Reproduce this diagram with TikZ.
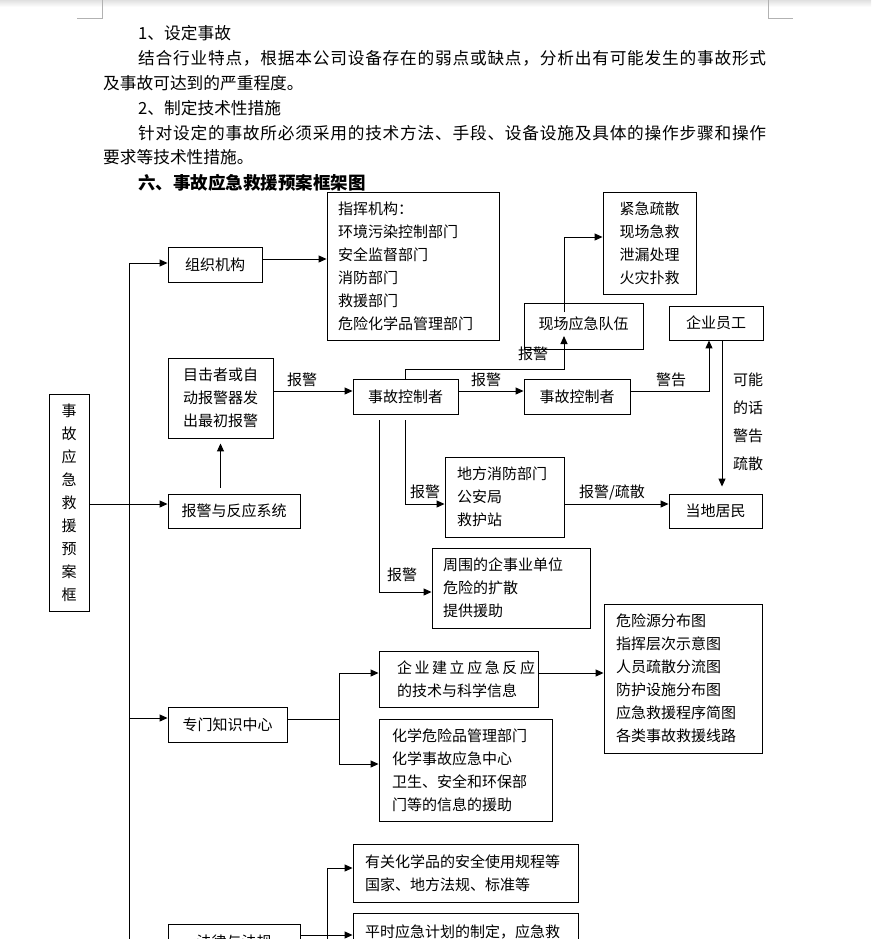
\documentclass[tikz,border=0pt]{standalone}
\usepackage{fontspec}
\setmainfont{Noto Sans CJK SC}
\usetikzlibrary{arrows.meta}
\newcommand\myspreadend{}
\def\myspreadA#1{\ifx#1\myspreadend\else#1\expandafter\myspreadB\fi}
\def\myspreadB#1{\ifx#1\myspreadend\else\hfill#1\expandafter\myspreadB\fi}
\newcommand\spreadto[2]{\makebox[#1][l]{\myspreadA#2\myspreadend}}
\newcommand\boxfont{\fontsize{15}{23}\selectfont}
\newcommand\bodyfont{\fontsize{16.7}{20}\selectfont}
\newcommand\titlefont{\fontsize{17.5}{20}\selectfont\bfseries}
\tikzset{
  box/.style={draw, line width=0.9pt, fill=white, inner sep=0pt, font=\boxfont},
  conn/.style={line width=1pt},
  arr/.style={conn, -{Triangle[length=8pt,width=7pt]}},
  lab/.style={font=\boxfont, inner sep=0pt},
  body/.style={font=\bodyfont, inner sep=0pt, anchor=west},
  ttl/.style={font=\titlefont, inner sep=0pt, anchor=west},
}
\begin{document}
\begin{tikzpicture}[x=1pt, y=-1pt]
\useasboundingbox (0,0) rectangle (871,939);
\fill[white] (0,0) rectangle (871,939);
\shade[top color=black!12, bottom color=white] (0,0) rectangle (871,7);
\draw[black!30, line width=0.8pt] (102,0) -- (102,18) -- (77,18);
\draw[black!30, line width=0.8pt] (768,0) -- (768,18) -- (793,18);

% body text
\node[body] (t1) at (138,33) {1、设定事故};
\node[body] (t2) at (138,58) {\spreadto{628pt}{结合行业特点，根据本公司设备存在的弱点或缺点，分析出有可能发生的事故形式}};
\node[body] (t3) at (103,83) {及事故可达到的严重程度。};
\node[body] (t4) at (138,108) {2、制定技术性措施};
\node[body] (t5) at (138,133) {\spreadto{628pt}{针对设定的事故所必须采用的技术方法、手段、设备设施及具体的操作步骤和操作}};
\node[body] (t6) at (103,157) {要求等技术性措施。};
\node[ttl] (t7) at (138,183) {六、事故应急救援预案框架图};

% boxes
\node[box, minimum width=172pt, minimum height=148pt, text width=150pt, align=left] (zhihui) at (413,266) {指挥机构：\\环境污染控制部门\\安全监督部门\\消防部门\\救援部门\\危险化学品管理部门};
\node[box, minimum width=93pt, minimum height=102pt, align=center] (jinji) at (649.5,243) {紧急疏散\\现场急救\\泄漏处理\\火灾扑救};
\node[box, minimum width=119pt, minimum height=46pt] (xianchang) at (583.5,326) {\raisebox{5pt}{现场应急队伍}};
\node[box, minimum width=94pt, minimum height=34pt] (qiye) at (716,323) {企业员工};
\node[box, minimum width=40pt, minimum height=217pt, align=center] (tall) at (69,502.5) {事\\故\\应\\急\\救\\援\\预\\案\\框};
\node[box, minimum width=132pt, minimum height=34pt] (alarmsys) at (234,511) {报警与反应系统};
\node[box, minimum width=105pt, minimum height=80pt, align=center] (witness) at (220.5,398) {目击者或自\\动报警器发\\出最初报警};
\node[box, minimum width=105pt, minimum height=35pt] (ctrl1) at (405.5,396.5) {事故控制者};
\node[box, minimum width=106pt, minimum height=35pt] (ctrl2) at (577,396.5) {事故控制者};
\node[box, minimum width=93pt, minimum height=34pt] (resident) at (715.5,511) {当地居民};
\node[box, minimum width=119pt, minimum height=80pt, text width=95pt, align=left] (fire) at (504.5,497) {地方消防部门\\公安局\\救护站};
\node[box, minimum width=158pt, minimum height=80pt, text width=136pt, align=left] (around) at (511,588) {周围的企事业单位\\危险的扩散\\提供援助};
\node[box, minimum width=94pt, minimum height=35pt] (org) at (215,264.5) {组织机构};
\node[box, minimum width=119pt, minimum height=35pt] (expert) at (227.5,724.5) {专门知识中心};
\node[box, minimum width=159pt, minimum height=56pt, text width=153pt, align=left] (tech) at (458.5,679) {\hspace*{15pt}\spreadto{138pt}{企业建立应急反应}\\\hspace*{15pt}的技术与科学信息};
\node[box, minimum width=173pt, minimum height=102pt, text width=147pt, align=left] (chem) at (465.5,770) {化学危险品管理部门\\化学事故应急中心\\卫生、安全和环保部\\门等的信息的援助};
\node[box, minimum width=158pt, minimum height=149pt, text width=134pt, align=left] (hazard) at (683,678.5) {危险源分布图\\指挥层次示意图\\人员疏散分流图\\防护设施分布图\\应急救援程序简图\\各类事故救援线路};
\node[box, minimum width=225pt, minimum height=58pt, text width=201pt, align=left] (law1) at (465.5,873) {有关化学品的安全使用规程等\\国家、地方法规、标准等};
\node[box, minimum width=225pt, minimum height=38pt, text width=201pt, align=left] (law2) at (465.5,932) {平时应急计划的制定，应急救};
\node[box, minimum width=132pt, minimum height=36pt] (lawbox) at (234,942) {法律与法规};

% connectors
\coordinate (trunkT) at (129,263);
\coordinate (trunkB) at (129,950);
\coordinate (trunkE) at (129,718);
\draw[conn] (trunkT) -- (trunkB);
\draw[arr] (trunkT) -- (trunkT -| org.west);
\draw[arr] (trunkE) -- (trunkE -| expert.west);
\draw[arr] (org.east |- 0,259) -- (zhihui.west |- 0,259);
\draw[arr] (tall.east |- 0,504) -- (alarmsys.west |- 0,504);
\draw[arr, shorten <=6pt, shorten >=5pt] (alarmsys.north -| witness.south) -- (witness.south);
\draw[arr] (witness.east |- 0,391) -- (ctrl1.west |- 0,391);
\draw[arr] (ctrl1.east |- 0,391) -- (ctrl2.west |- 0,391);
\draw[arr] (ctrl2.east |- 0,391) -| (qiye.south -| 709,0);
\draw[arr, shorten >=7pt] (qiye.south -| 722,0) -- (resident.north -| 722,0);
\draw[arr] (ctrl1.north) |- (564,369) -- (564,336);
\draw[arr] (564,312) |- (jinji.west |- 0,237);
\draw[arr] (fire.east |- 0,504) -- (resident.west |- 0,504);
\draw[arr, shorten <=6pt] (ctrl1.south) |- (fire.west |- 0,504);
\draw[arr, shorten <=6pt] (ctrl1.south -| 379,0) |- (around.west |- 0,592);
\coordinate (ej) at (339,719);
\draw[conn] (expert.east |- ej) -- (ej);
\draw[arr] (ej) |- (tech.west |- 0,673);
\draw[arr] (ej) |- (chem.west |- 0,764);
\draw[arr] (tech.east |- 0,673) -- (hazard.west |- 0,673);
\coordinate (lj) at (327,935);
\draw[arr] (lawbox.east |- lj) -- (law2.west |- lj);
\coordinate (lt) at (327,868);
\draw[conn] (lt) -- (327,950);
\draw[arr] (lt) -- (law1.west |- lt);

% labels
\node[lab] (l1) at (302,380) {报警};
\node[lab] (l2) at (486,380) {报警};
\node[lab] (l3) at (671,380) {警告};
\node[lab] (l4) at (533,354) {报警};
\node[lab] (l5) at (425,492) {报警};
\node[lab] (l6) at (402,575) {报警};
\node[lab] (l7) at (612,492) {报警/疏散};
\node[lab, align=center, font=\fontsize{15}{28}\selectfont] (l8) at (748,422) {可能\\的话\\警告\\疏散};
\end{tikzpicture}
\end{document}
